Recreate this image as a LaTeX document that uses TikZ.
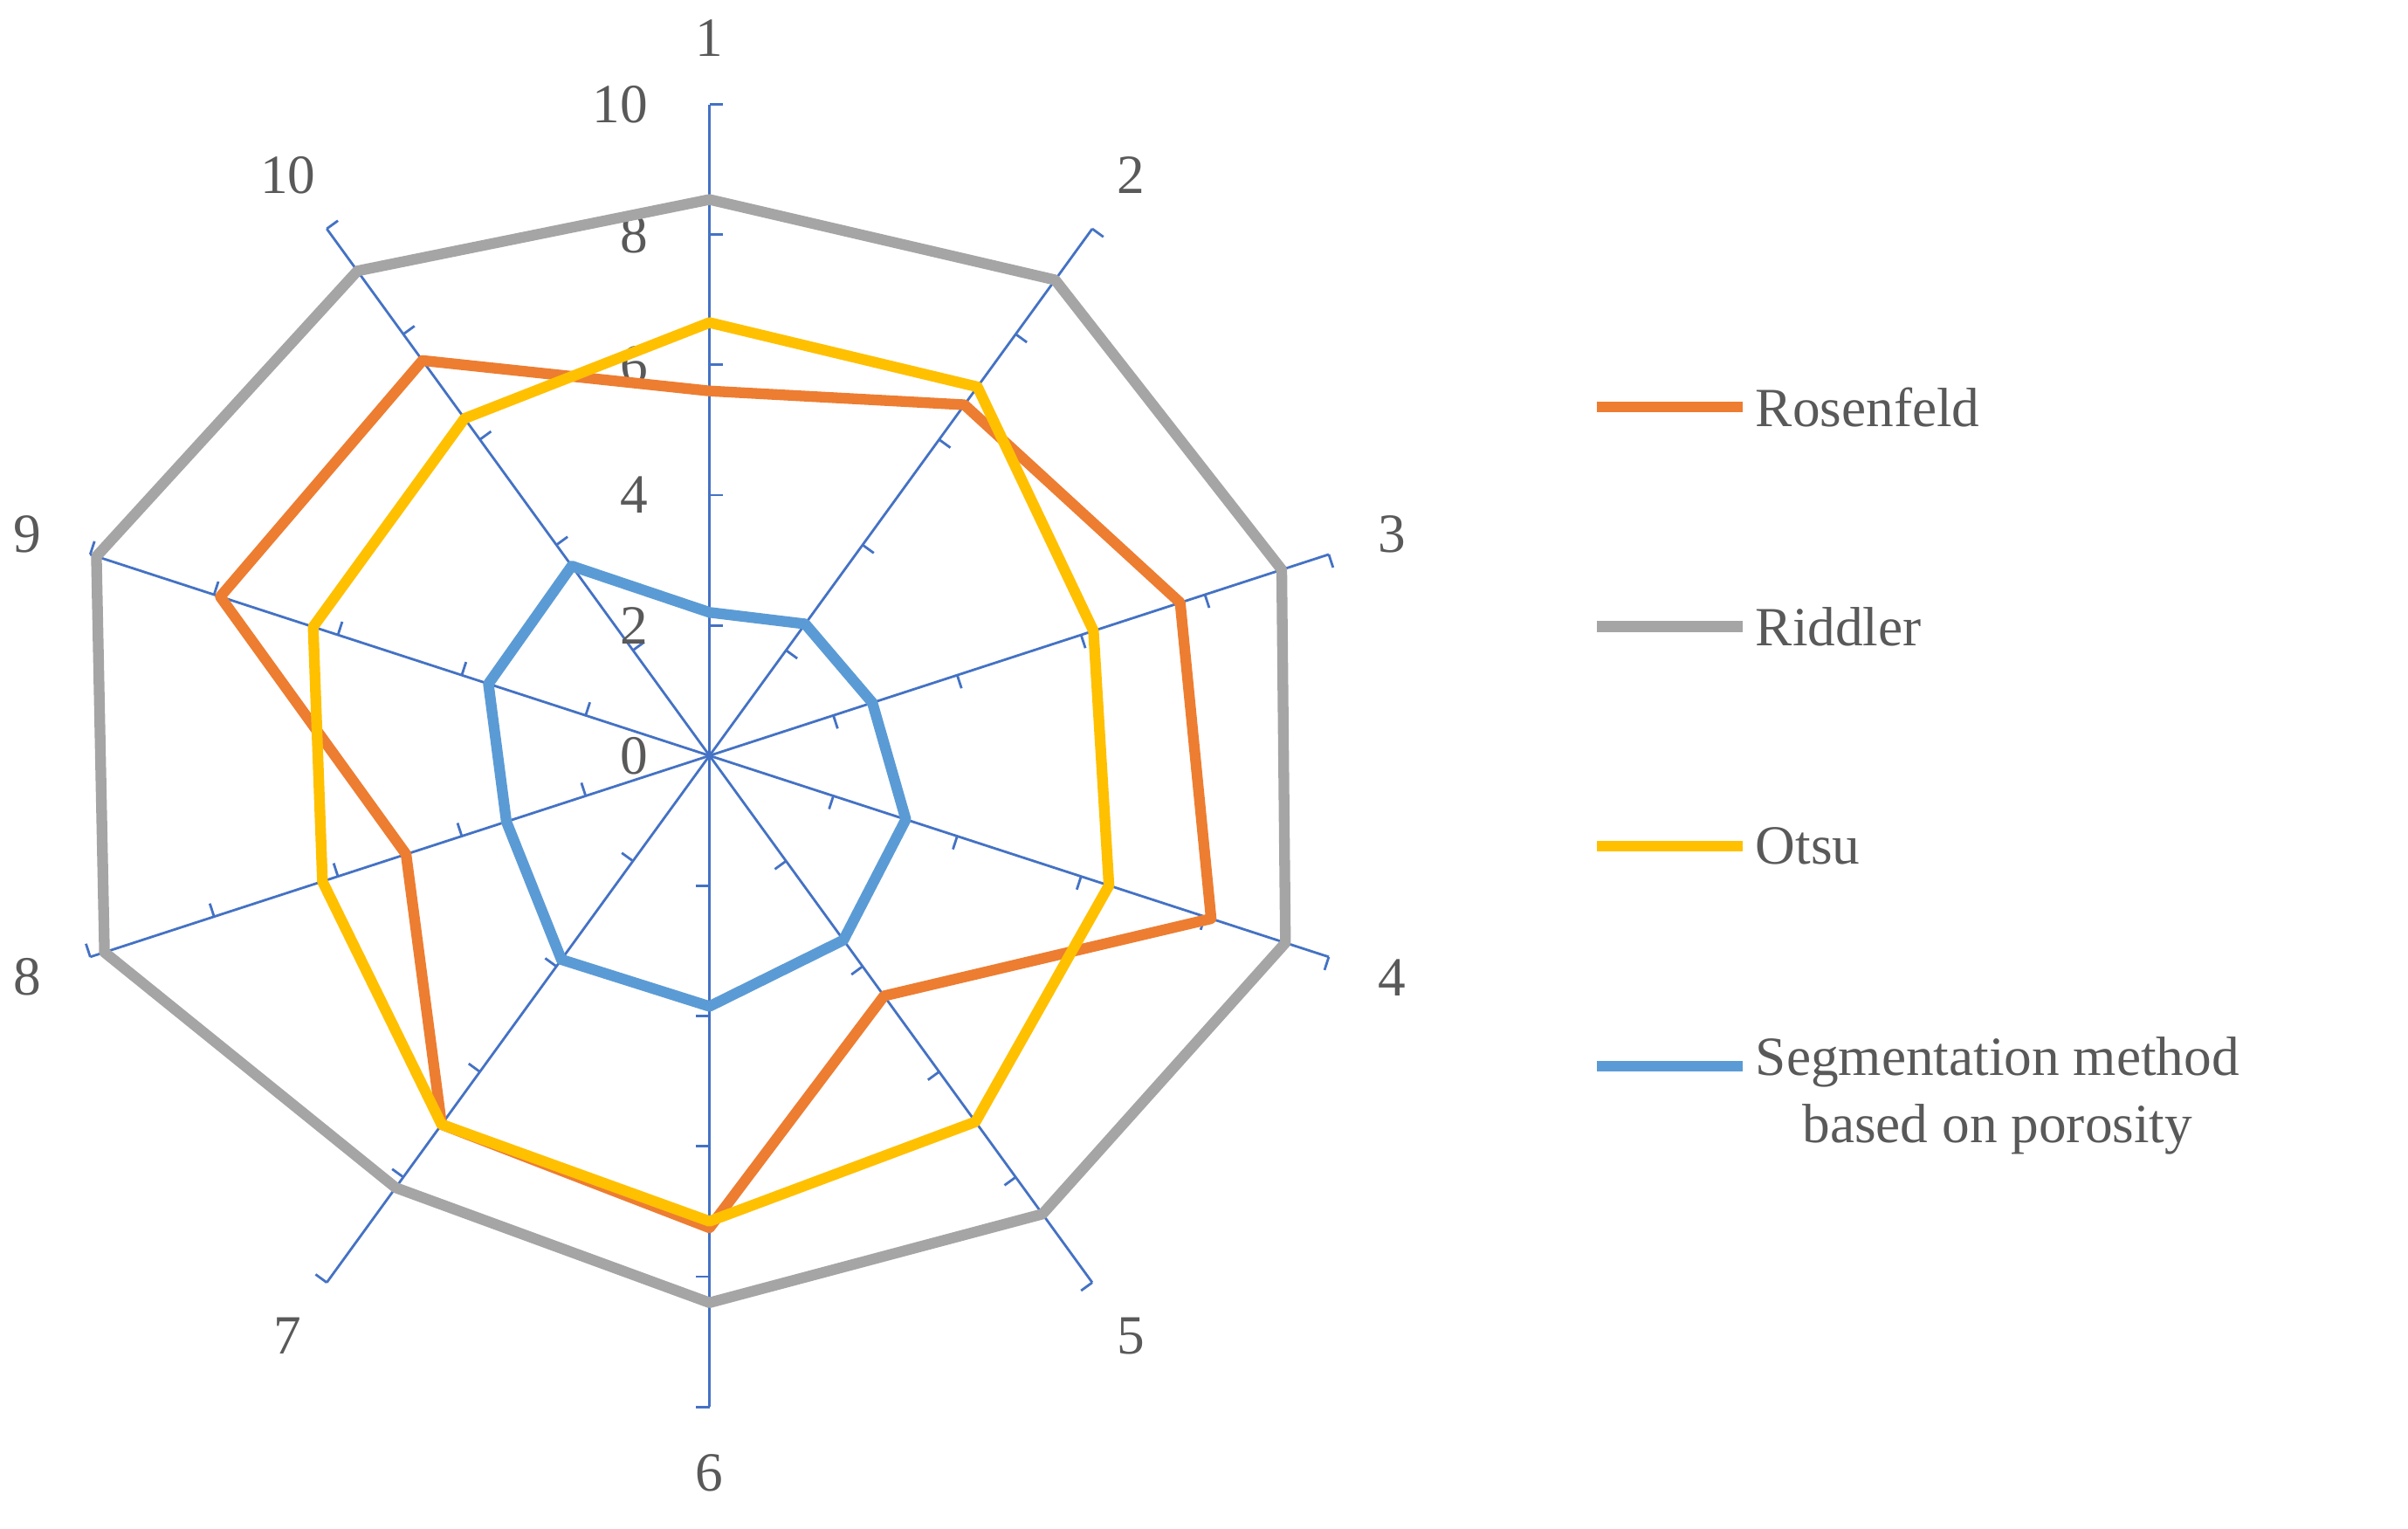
\documentclass[tikz,border=0pt]{standalone}
\usepackage{fontspec}
\setmainfont{Liberation Serif}
\usetikzlibrary{calc}
\begin{document}
\begin{tikzpicture}[x=1pt,y=1pt,
  ax/.style={draw=axblue,line width=1.6pt},
  ser/.style={line width=7pt,line join=round},
  lbl/.style={text=txt,font=\fontsize{36}{40}\selectfont,inner sep=0pt}]
\definecolor{axblue}{HTML}{4472C4}
\definecolor{ros}{HTML}{ED7D31}
\definecolor{rid}{HTML}{A5A5A5}
\definecolor{ots}{HTML}{FFC000}
\definecolor{seg}{HTML}{5B9BD5}
\definecolor{txt}{HTML}{595959}
\useasboundingbox (0,0) rectangle (1568,995);
\coordinate (c) at (462,503);
\def\u{42.4}
% axes
\foreach \k in {1,...,10}{
  \pgfmathsetmacro{\a}{90-36*(\k-1)}
  \draw[ax] (c) -- ++(\a:{10*\u}) coordinate (e\k);
  \foreach \t in {2,4,6,8,10}{
    \draw[ax] ($(c)+(\a:{\t*\u})$) -- ++(\a-90:9);
  }
  \node[lbl] at ($(c)+(\a:467)$) {\k};
}
\foreach \t in {0,2,4,6,8,10}{
  \node[lbl,anchor=east] at ($(c)+(0,{\t*\u})+(-40,0)$) {\t};
}
% series
\newcommand\series[2]{%
  \foreach \v [count=\k] in {#2}{
    \pgfmathsetmacro{\a}{90-36*(\k-1)}
    \coordinate (p\k) at ($(c)+(\a:{\v*\u})$);
  }
  \draw[ser,#1] (p1)--(p2)--(p3)--(p4)--(p5)--(p6)--(p7)--(p8)--(p9)--(p10)--cycle;
}
\series{rid}{8.54,9.03,9.24,9.3,8.7,8.4,8.2,9.77,9.9,9.2}
\series{ros}{5.6,6.66,7.6,8.1,4.56,7.25,7.0,4.9,7.9,7.5}
\series{ots}{6.65,7.0,6.2,6.45,6.95,7.15,7.0,6.25,6.4,6.4}
\series{seg}{2.2,2.5,2.63,3.17,3.5,3.85,3.87,3.28,3.57,3.6}
% legend
\foreach \col/\y/\txt in {ros/730/Rosenfeld,rid/587/Riddler,ots/444/Otsu}{
  \draw[line width=7pt,\col] (1040,\y) coordinate (l\col) -- (1135,\y) coordinate (r\col);
  \node[lbl,anchor=west] (t\col) at (1143,\y) {\txt};
}
\draw[line width=7pt,seg] (1040,301) coordinate (lseg) -- (1135,301) coordinate (rseg);
\node[lbl,anchor=north west,align=center] (tseg) at (1143,320) {Segmentation method\\[4pt]based on porosity};
\end{tikzpicture}
\end{document}
